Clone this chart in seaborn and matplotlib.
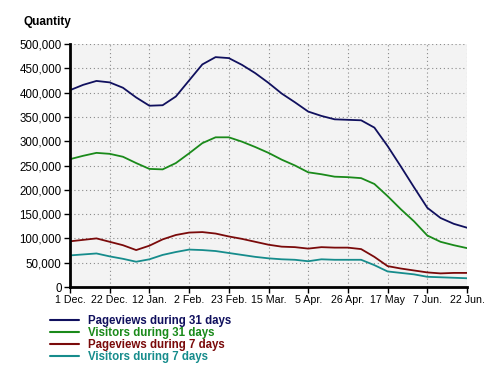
import matplotlib
matplotlib.use("Agg")
import matplotlib.pyplot as plt
import seaborn as sns
import pandas as pd
from matplotlib.lines import Line2D
from matplotlib.ticker import FuncFormatter

weeks = list(range(31))
tick_labels = ["1 Dec.", "22 Dec.", "12 Jan.", "2 Feb.", "23 Feb.", "15 Mar.",
               "5 Apr.", "26 Apr.", "17 May", "7 Jun.", "22 Jun."]

pageviews_31 = [405, 416, 424, 421, 410, 390, 373, 374, 392, 425, 458, 473, 471, 457,
                440, 420, 398, 380, 361, 352, 345, 344, 343, 328, 290, 248, 205, 163,
                142, 130, 122]
visitors_31 = [263, 270, 276, 274, 268, 255, 243, 242, 255, 275, 296, 308, 308, 299,
               288, 276, 262, 250, 236, 232, 227, 226, 224, 212, 187, 160, 135, 106,
               93, 86, 80]
pageviews_7 = [94, 97, 100, 93, 86, 76, 85, 98, 107, 112, 113, 110, 104, 99, 93, 87,
               83, 82, 79, 82, 81, 81, 78, 62, 43, 38, 34, 30, 28, 29, 29]
visitors_7 = [65, 67, 69, 63, 58, 52, 57, 66, 72, 77, 76, 74, 70, 66, 62, 59, 57, 56,
              53, 57, 56, 56, 56, 45, 32, 29, 26, 21, 20, 19, 18]

series_names = ["Pageviews during 31 days", "Visitors during 31 days",
                "Pageviews during 7 days", "Visitors during 7 days"]
colors = ["#10105e", "#1a8a1a", "#7a0a0a", "#168c8c"]

rows = []
for name, vals in zip(series_names, [pageviews_31, visitors_31, pageviews_7, visitors_7]):
    for w, v in zip(weeks, vals):
        rows.append({"week": w, "value": v * 1000, "series": name})
df = pd.DataFrame(rows)

sns.set_theme(style="white")
plt.rcParams["font.family"] = ["Liberation Sans", "DejaVu Sans"]

fig = plt.figure(figsize=(5.0, 3.68), dpi=100)
ax = fig.add_axes([70 / 500, 1 - 287 / 368, 397 / 500, 243 / 368])
ax.set_facecolor("#f3f3f3")

sns.lineplot(data=df, x="week", y="value", hue="series", hue_order=series_names,
             palette=colors, linewidth=1.3, ax=ax, legend=False)

ax.set_xlim(0, 30)
ax.set_ylim(0, 500000)
ax.set_xticks(list(range(0, 31, 3)))
ax.set_xticklabels(tick_labels)
ax.set_yticks(list(range(0, 500001, 50000)))
ax.yaxis.set_major_formatter(FuncFormatter(lambda v, p: f"{int(v):,}"))
ax.set_xlabel("")
ax.set_ylabel("")

ax.grid(True, color="#8a8a8a", linestyle=(0, (1, 2.5)), linewidth=0.8)
ax.set_axisbelow(True)
for s in ["top", "right"]:
    ax.spines[s].set_visible(False)
for s in ["left", "bottom"]:
    ax.spines[s].set_color("black")
    ax.spines[s].set_linewidth(2)
ax.tick_params(axis="both", which="major", direction="out", length=4, width=1,
               color="black", labelcolor="black", pad=2, bottom=True, left=True)
ax.tick_params(axis="y", labelsize=8.3)
ax.tick_params(axis="x", labelsize=7.7)

fig.text(23 / 500, 1 - 22 / 368, "Quantity", fontsize=8.5, fontweight="bold",
         ha="left", va="center", color="black")

handles = [Line2D([0], [0], color=c, linewidth=1.5) for c in colors]
leg = fig.legend(handles, series_names, loc="upper left",
                 bbox_to_anchor=(50 / 500, 1 - 315 / 368), frameon=False,
                 handlelength=2.5, handletextpad=0.8, labelspacing=0.0,
                 borderpad=0, borderaxespad=0,
                 prop={"weight": "bold", "size": 8.3})
for t, c in zip(leg.get_texts(), colors):
    t.set_color(c)

fig.savefig("out.png", dpi=100)
